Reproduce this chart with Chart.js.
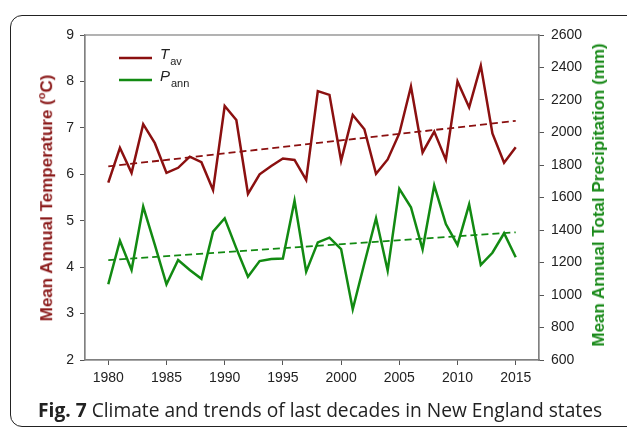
<!DOCTYPE html>
<html>
<head>
<meta charset="utf-8">
<script src="https://cdn.jsdelivr.net/npm/chart.js@4.4.1/dist/chart.umd.min.js"></script>
<style>
  html, body { margin: 0; padding: 0; background: #fff; }
  #wrap { position: relative; width: 627px; height: 430px; overflow: hidden; }
  #box {
    position: absolute; left: 10px; top: 15px; width: 640px; height: 410px;
    border: 1.5px solid #222; border-radius: 12px;
  }
  canvas { position: absolute; left: 0; top: 0; }
  .ytitle {
    position: absolute; font-family: "Liberation Sans", Arial, sans-serif;
    font-weight: bold; white-space: nowrap; transform: translate(-50%, -50%) rotate(-90deg);
  }
  #caption {
    position: absolute; left: 38px; top: 396px; font-family: "Open Sans", sans-serif;
    font-size: 19.2px; color: #222; white-space: nowrap;
  }
</style>
</head>
<body>
<div id="wrap">
  <div id="box"></div>
  <canvas id="grafico" width="627" height="430"></canvas>
  <div class="ytitle" style="left:46px; top:198px; font-size:17px; color:#8b1a1a;">Mean Annual Temperature (<sup style="font-size:11px">o</sup>C)</div>
  <div class="ytitle" style="left:599px; top:195px; font-size:17px; color:#1a8a1a;">Mean Annual Total Precipitation (mm)</div>
  <div id="caption"><b>Fig. 7</b> Climate and trends of last decades in New England states</div>
</div>

<script>
// Datos
const anios = [1980,1981,1982,1983,1984,1985,1986,1987,1988,1989,1990,1991,1992,1993,1994,1995,1996,1997,
               1998,1999,2000,2001,2002,2003,2004,2005,2006,2007,2008,2009,2010,2011,2012,2013,2014,2015];

const temperatura = [5.82,6.57,6.03,7.08,6.67,6.03,6.14,6.38,6.26,5.66,7.47,7.17,5.58,6.00,6.18,6.34,6.31,5.88,
                     7.79,7.71,6.29,7.28,6.97,6.01,6.32,6.88,7.89,6.47,6.92,6.31,8.00,7.44,8.34,6.88,6.25,6.58];

const precipitacion = [1066,1334,1154,1544,1308,1066,1215,1154,1100,1390,1472,1287,1113,1209,1222,1225,1580,1144,
                       1324,1353,1283,912,1195,1472,1150,1654,1540,1281,1675,1437,1308,1558,1185,1260,1380,1232];

// Tendencias (extremos 1980 y 2015)
const tendenciaAnios = [1980, 2015];
const tendenciaTemp  = [6.17, 7.15];
const tendenciaPrec  = [1215, 1386];

const ticksX = [1980,1985,1990,1995,2000,2005,2010,2015];

const ROJO  = '#8b1010';
const VERDE = '#128a12';
const FUENTE = '"Liberation Sans", Arial, sans-serif';

function aPuntos(xs, ys) {
  return xs.map((x, i) => ({ x: x, y: ys[i] }));
}

// Etiquetas sin separador de miles
const sinComas = v => String(v);

// Marco del área del gráfico y leyenda
const marcoYLeyenda = {
  id: 'marcoYLeyenda',
  afterDraw(chart) {
    const { ctx, chartArea: a } = chart;
    ctx.save();
    ctx.strokeStyle = '#808080';
    ctx.lineWidth = 1.2;
    ctx.strokeRect(a.left, a.top, a.right - a.left, a.bottom - a.top);

    const items = [
      { color: ROJO,  main: 'T', sub: 'av',  y: 58 },
      { color: VERDE, main: 'P', sub: 'ann', y: 80 }
    ];
    items.forEach(it => {
      ctx.strokeStyle = it.color;
      ctx.lineWidth = 2.5;
      ctx.beginPath();
      ctx.moveTo(119, it.y);
      ctx.lineTo(152, it.y);
      ctx.stroke();
      ctx.fillStyle = '#222';
      ctx.textBaseline = 'middle';
      ctx.font = 'italic 15px ' + FUENTE;
      ctx.fillText(it.main, 160, it.y - 3);
      const w = ctx.measureText(it.main).width;
      ctx.font = '11px ' + FUENTE;
      ctx.fillText(it.sub, 160 + w + 1, it.y + 4);
    });
    ctx.restore();
  }
};

new Chart(document.getElementById('grafico'), {
  type: 'line',
  data: {
    datasets: [
      { data: aPuntos(anios, temperatura), yAxisID: 'y', borderColor: ROJO, borderWidth: 2.5, pointRadius: 0, tension: 0 },
      { data: aPuntos(anios, precipitacion), yAxisID: 'y1', borderColor: VERDE, borderWidth: 2.5, pointRadius: 0, tension: 0 },
      { data: aPuntos(tendenciaAnios, tendenciaTemp), yAxisID: 'y', borderColor: ROJO, borderWidth: 1.8, borderDash: [7, 4], pointRadius: 0 },
      { data: aPuntos(tendenciaAnios, tendenciaPrec), yAxisID: 'y1', borderColor: VERDE, borderWidth: 1.8, borderDash: [7, 4], pointRadius: 0 }
    ]
  },
  options: {
    responsive: false,
    animation: false,
    layout: { padding: { top: 35, left: 0, right: 0, bottom: 0 } },
    plugins: { legend: { display: false }, tooltip: { enabled: false } },
    scales: {
      x: {
        type: 'linear', min: 1978, max: 2017,
        afterBuildTicks: s => { s.ticks = ticksX.map(v => ({ value: v })); },
        afterFit: s => { s.height = 70; },
        grid: { drawOnChartArea: false, tickLength: 5, color: '#555' },
        border: { color: '#808080', width: 1.2 },
        ticks: { color: '#222', font: { family: FUENTE, size: 14 }, padding: 5, maxRotation: 0, callback: sinComas }
      },
      y: {
        position: 'left', min: 2, max: 9,
        afterFit: s => { s.width = 85; },
        grid: { drawOnChartArea: false, tickLength: 5, color: '#555' },
        border: { color: '#808080', width: 1.2 },
        ticks: { stepSize: 1, color: '#222', font: { family: FUENTE, size: 14 }, padding: 6, callback: sinComas }
      },
      y1: {
        position: 'right', min: 600, max: 2600,
        afterFit: s => { s.width = 88; },
        grid: { drawOnChartArea: false, tickLength: 5, color: '#555' },
        border: { color: '#808080', width: 1.2 },
        ticks: { stepSize: 200, color: '#222', font: { family: FUENTE, size: 14 }, padding: 7, callback: sinComas }
      }
    }
  },
  plugins: [marcoYLeyenda]
});
</script>
</body>
</html>
